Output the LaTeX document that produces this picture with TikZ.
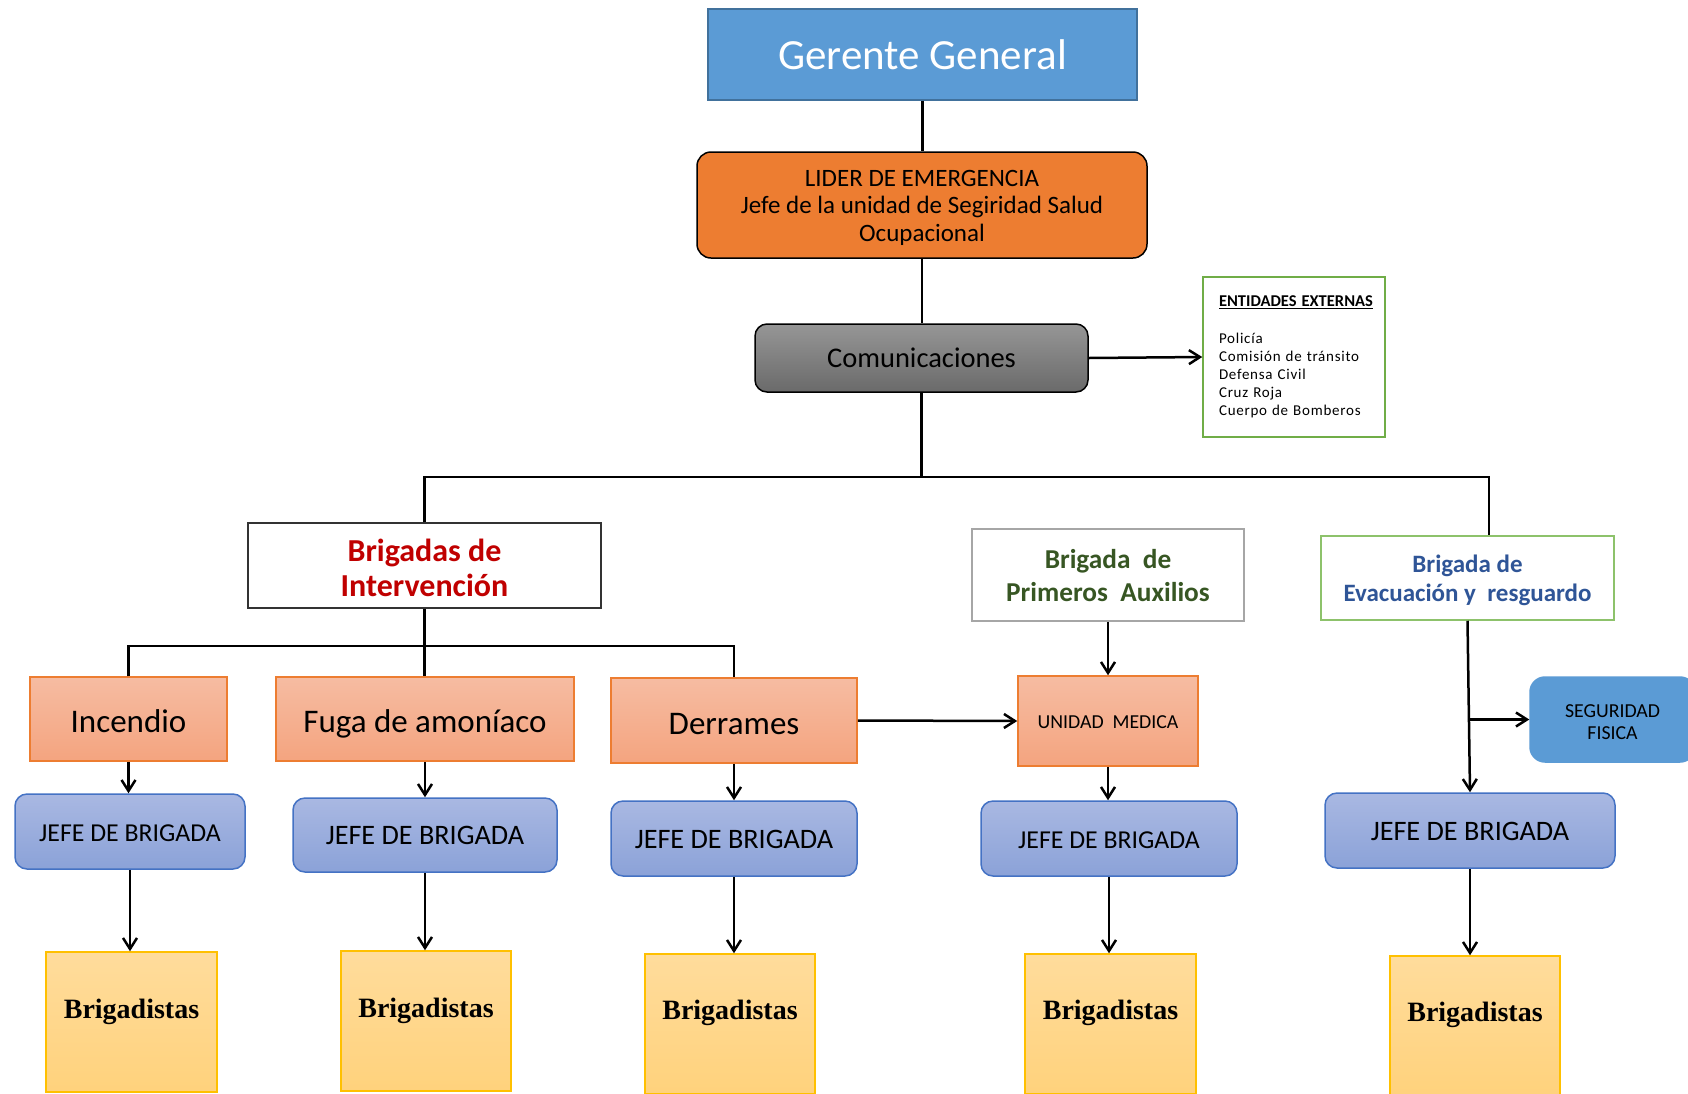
\documentclass[tikz,border=0pt]{standalone}
\usepackage{fontspec}
\setmainfont{Carlito}
\newfontfamily\serifbold{Liberation Serif}
\usetikzlibrary{arrows.meta}

\definecolor{gerfill}{HTML}{5B9BD5}
\definecolor{gerline}{HTML}{41719C}
\definecolor{lidfill}{HTML}{ED7D31}
\definecolor{comtop}{HTML}{969696}
\definecolor{combot}{HTML}{6A6A6A}
\definecolor{saltop}{HTML}{F6BCA2}
\definecolor{salbot}{HTML}{F4A47F}
\definecolor{salline}{HTML}{ED7D31}
\definecolor{jtop}{HTML}{A9B8E2}
\definecolor{jbot}{HTML}{8BA2D8}
\definecolor{jline}{HTML}{4472C4}
\definecolor{btop}{HTML}{FFDC9C}
\definecolor{bbot}{HTML}{FFD27C}
\definecolor{bline}{HTML}{FFC000}
\definecolor{redtxt}{HTML}{C00000}
\definecolor{greentxt}{HTML}{375623}
\definecolor{bluetxt}{HTML}{2F5597}
\definecolor{greenline}{HTML}{70AD47}
\definecolor{lgreenline}{HTML}{8DC26B}
\definecolor{grayline}{HTML}{A6A6A6}

\newcommand{\setfs}[2]{\fontsize{#1pt}{#2pt}\selectfont}
% centred block of lines, drawn lower by the first argument (box size kept)
\newcommand{\txtshift}[2]{\raisebox{-#1pt}[\height][\depth]{\begin{tabular}{@{}c@{}}#2\end{tabular}}}
% one line drawn higher by the first argument (box size kept)
\newcommand{\txtup}[2]{\raisebox{#1pt}[\height][\depth]{#2}}

\begin{document}
\begin{tikzpicture}[x=1pt,y=-1pt,
  box/.style={draw, line width=1.5pt, inner sep=2pt, align=center, anchor=center},
  conn/.style={line width=2.5pt, black},
  arr/.style={conn, -{Straight Barb[length=11pt,width=14pt]}},
  salmon/.style={box, draw=salline, top color=saltop, bottom color=salbot},
  jefe/.style={box, draw=jline, rounded corners=12pt, top color=jtop, bottom color=jbot},
  brig/.style={box, draw=bline, top color=btop, bottom color=bbot,
    minimum height=140pt, font=\serifbold\bfseries\setfs{28}{30}},
  titlebox/.style={box, fill=white}
]
\useasboundingbox (0,0) rectangle (1688,1093);
\fill[white] (0,0) rectangle (1688,1093);
\clip (0,0) rectangle (1688,1093);

% top of the chain
\node[box, draw=gerline, fill=gerfill, text=white, minimum width=429pt, minimum height=91pt,
  font=\setfs{43}{46}] (ger) at (922.5,54.5) {Gerente General};
\node[box, draw=black, fill=lidfill, rounded corners=14pt, minimum width=450pt, minimum height=106pt,
  font=\setfs{25}{27.5}] (lid) at (922,205)
  {\txtshift{3.2}{LIDER DE EMERGENCIA\\Jefe de la unidad de Segiridad Salud\\Ocupacional}};
\node[box, draw=black, top color=comtop, bottom color=combot, rounded corners=12pt,
  minimum width=333pt, minimum height=68pt, font=\setfs{28.5}{30}] (com) at (921.5,358) {Comunicaciones};
\node[box, draw=greenline, fill=white, minimum width=182pt, minimum height=160pt,
  text width=150pt, inner xsep=2pt, align=left, font=\addfontfeature{LetterSpace=5}\setfs{15}{18}] (ent) at (1294,357)
  {{\setfs{16.5}{18}\bfseries\addfontfeature{LetterSpace=0}\underline{ENTIDADES EXTERNAS}}\\[19pt]
   Policía\\Comisión de tránsito\\Defensa Civil\\Cruz Roja\\Cuerpo de Bomberos};

% brigade headers
\node[titlebox, draw=black!80, minimum width=353pt, minimum height=85pt, text=redtxt,
  font=\bfseries\setfs{32}{35.5}] (bint) at (424.5,565.5) {\txtshift{6.5}{Brigadas de\\Intervención}};
\node[titlebox, draw=grayline, minimum width=272pt, minimum height=92pt, text=greentxt,
  font=\bfseries\setfs{27.3}{33}] (bpa) at (1108,575) {\txtshift{3.8}{Brigada\ \ de\\Primeros\ \ Auxilios}};
\node[titlebox, draw=lgreenline, minimum width=293pt, minimum height=84pt, text=bluetxt,
  font=\bfseries\setfs{25}{29}] (bev) at (1467.5,578) {\txtshift{3.2}{Brigada de\\Evacuación y\ \ resguardo}};

% emergency types
\node[salmon, minimum width=197pt, minimum height=84pt, font=\setfs{33}{36}] (inc) at (128.5,719) {\txtshift{6.5}{Incendio}};
\node[salmon, minimum width=298pt, minimum height=84pt, font=\setfs{33}{36}] (fuga) at (425,719) {\txtshift{6.5}{Fuga de amoníaco}};
\node[salmon, minimum width=246pt, minimum height=85pt, font=\setfs{33}{36}] (der) at (734,720.5) {\txtshift{6.5}{Derrames}};
\node[salmon, minimum width=180pt, minimum height=90pt, font=\setfs{19.8}{22}] (um) at (1108,721) {\txtshift{3.2}{UNIDAD\ \ MEDICA}};
\node[box, draw=gerfill, fill=gerfill, rounded corners=15pt, minimum width=165pt, minimum height=85pt,
  font=\setfs{19.8}{22.5}] (seg) at (1612.5,719.5) {\txtshift{4.3}{SEGURIDAD\\FISICA}};

% brigade chiefs
\node[jefe, minimum width=230pt, minimum height=75pt, font=\setfs{25.8}{28}] (j1) at (130,831.5) {\txtshift{4.3}{JEFE DE BRIGADA}};
\node[jefe, minimum width=264pt, minimum height=74pt, font=\setfs{28.2}{30}] (j2) at (425,835) {\txtshift{3.2}{JEFE DE BRIGADA}};
\node[jefe, minimum width=246pt, minimum height=75pt, font=\setfs{28.2}{30}] (j3) at (734,838.5) {\txtshift{4.3}{JEFE DE BRIGADA}};
\node[jefe, minimum width=256pt, minimum height=75pt, font=\setfs{25.8}{28}] (j4) at (1109,838.5) {\txtshift{4.3}{JEFE DE BRIGADA}};
\node[jefe, minimum width=290pt, minimum height=75pt, font=\setfs{28.2}{30}] (j5) at (1470,830.5) {\txtshift{4.3}{JEFE DE BRIGADA}};

% brigade members
\node[brig, minimum width=171pt] (b1) at (131.5,1022) {\txtup{10.4}{Brigadistas}};
\node[brig, minimum width=170pt] (b2) at (426,1021) {\txtup{10.4}{Brigadistas}};
\node[brig, minimum width=170pt] (b3) at (730,1024) {\txtup{11.2}{Brigadistas}};
\node[brig, minimum width=171pt] (b4) at (1110.5,1024) {\txtup{11.2}{Brigadistas}};
\node[brig, minimum width=170pt] (b5) at (1475,1026) {\txtup{11}{Brigadistas}};

% junction points of the trunk lines
\coordinate (busR) at (1489,477);
\coordinate (subbus) at (425,646);

% main trunk
\draw[conn] (ger.south) -- (ger.south |- lid.north);
\draw[conn] (lid.south) -- (lid.south |- com.north);
\draw[conn] (com.south) -- (com.south |- busR);
\draw[conn] (bint.north) |- (busR) -- (busR |- bev.north);
\draw[arr] (com.east) -- (ent.west);

% intervention branch
\draw[conn] (bint.south) -- (bint.south |- fuga.north);
\draw[conn] (inc.north) |- (subbus) -| (der.north);

% arrows down each column
\draw[arr] (inc.south) -- (inc.south |- j1.north);
\draw[arr] (fuga.south) -- (fuga.south |- j2.north);
\draw[arr] (der.south) -- (der.south |- j3.north);
\draw[arr] (der.east) -- (um.west);
\draw[arr] (bpa.south) -- (um.north);
\draw[arr] (um.south) -- (um.south |- j4.north);
\draw[arr] (bev.south) -- (j5.north);
\draw[arr] (seg.west -| j5.north) -- (seg.west);

\draw[arr] (j1.south) -- (j1.south |- b1.north);
\draw[arr] (j2.south) -- (j2.south |- b2.north);
\draw[arr] (j3.south) -- (j3.south |- b3.north);
\draw[arr] (j4.south) -- (j4.south |- b4.north);
\draw[arr] (j5.south) -- (j5.south |- b5.north);
\end{tikzpicture}
\end{document}
